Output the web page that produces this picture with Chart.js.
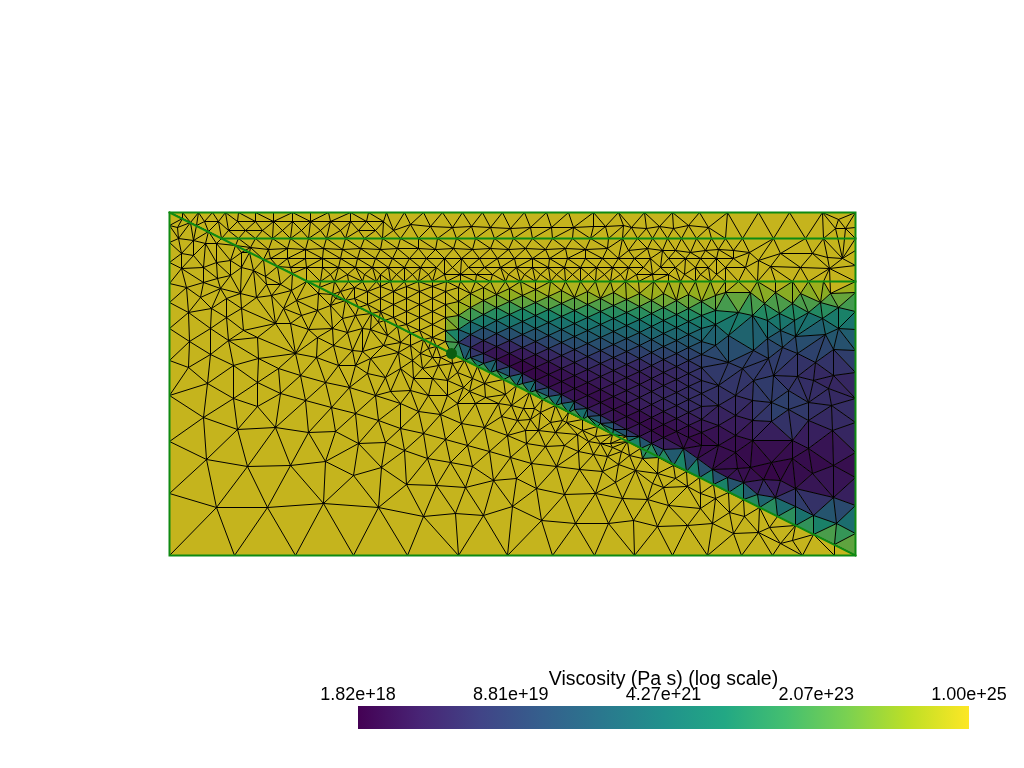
<!DOCTYPE html>
<html><head><meta charset="utf-8">
<style>html,body{margin:0;padding:0;background:#fff;overflow:hidden}
canvas{position:absolute;display:block}</style>
<script src="https://cdn.jsdelivr.net/npm/chart.js@4"></script></head>
<body>
<canvas id="mesh" width="1024" height="768" style="left:0;top:0;width:1024px;height:768px"></canvas>
<canvas id="bar" width="720" height="90" style="left:300px;top:654px;width:720px;height:90px"></canvas>
<script>
// ---------- colour bar ----------
const colorbarTitle = "Viscosity (Pa s) (log scale)";
const colorbarMin = 1.82e18, colorbarMax = 1.00e25;
const colorbarTickValues = [1.82e18, 8.81e19, 4.27e21, 2.07e23, 1.00e25];
const colorbarTickLabels = ["1.82e+18", "8.81e+19", "4.27e+21", "2.07e+23", "1.00e+25"];
const viridis = ["#440154","#482475","#414487","#355f8d","#2a788e","#21918c","#22a884","#44bf70","#7ad151","#bddf26","#fde725"];

// ---------- mesh frame (axis units) ----------
const frameX = [169, 855, 855, 169, 169];
const frameY = [212, 212, 555, 555, 212];
const slabTop = [[169,212],[855,555]];
const slabLevel1 = [[221,238],[855,238]];
const slabLevel2 = [[306,281],[855,281]];
const wedgeTip = [[451,353]];

// ---------- mesh nodes: rows [y, x...] ----------
const rowTop = [212,169,182,198,212,225,238,255,273,292,310,328,350,368,386,404,423,442,462,482,502,524,546,568,593,618,644,672,699,727,758,789,822,855];
const row238 = [238,221,238,255,272,290,308,326,345,364,382,400,418,437,456,475,494,513,532,552,572,590,608,622,637,652,667,681,696,711,725,742,773,805,823,855];
const row281 = [281,306,320,334,348,362,376,390,404,418,432,446,460,475,490,505,520,535,550,565,580,595,610,625,638,653,668,680,695,710,725,738,757,775,792,808,823,855];
const row258 = [258,270,287,305,322,340,357,375,392,409,426,444,461,479,497,514,532,549,567,585,602,618,634,650,668,685,700,716,733];
const row267 = [267,290,306,322,338,355,372,388,404,420,436,452,468,484,500,516,532,548,564,580,596,612,628,643,660,675,695,708,725];
const row274 = [274,330,347,364,380,396,412,428,444,460,476,492,508,524,540,556,572,588,604,620,636,652,668,684,700,716];
const row221 = [221,204,218,237,255,273,292,310,330,350,366,383];
const row230 = [230,228,245,262,282,301,320,340,358,375,393];
const bottomEdge = [555,169,234,295,353,407,458,507,552,594,634,672,707,741,772,802,834];
const leftEdge = [225,242,262,283,302,328,360,395,441,493];

// columns above the slab, left of the tip: [x, y, y, ...]
const forearcColumns = [[340,291],[354,287,298],[367,291,304],[380,286,298,311],[393,291,304,317],[406,286,298,311,324],[419,291,304,317,330],[432,286,298,311,324,337],[445,291,304,317,330,341]];

// mesh nodes: free pairs [x,y]
const row226Nodes = [[177,227],[190,222],[410,224],[430,226],[452,227],[471,226],[490,227],[510,228],[530,227],[551,227],[573,227],[593,226],[605,226],[623,225],[631,227],[646,228],[659,226],[673,228],[688,225],[708,227],[835,228],[845,228],[838,219],[855,227]];
const row248Nodes = [[178,238],[193,240],[205,243],[216,243],[233,248],[250,247],[268,249],[287,248],[305,249],[323,248],[342,249],[360,248],[380,249],[397,248],[418,248],[435,249],[453,248],[472,249],[490,248],[508,249],[525,248],[545,249],[565,248],[585,249],[607,248],[628,250],[647,248],[662,250],[675,250],[690,252],[705,250],[718,249],[733,250],[749,252],[780,253],[812,253],[827,257],[842,258],[855,250],[745,267],[770,266],[800,267],[829,268],[758,260],[855,265]];
const slabNodes = [[182,218],[196,225],[208,231],[235,245],[249,252],[263,259],[277,266],[292,273],[319,287],[332,294],[345,300],[358,307],[371,313],[384,320],[397,326],[410,333],[423,339],[436,346],[451,353]];
const slabWedgeNodes = [[464,360],[477,366],[490,372],[503,379],[516,385],[529,392],[542,399],[555,405],[568,412],[582,419],[597,426],[612,434],[627,441],[640,448],[658,457],[673,465],[686,471],[699,477],[713,484],[728,492],[743,499],[759,507],[777,516],[795,525],[813,534],[834,544],[855,555]];
const slabWedgeViscosity = 0.85;

// wedge columns: [x, y, v, y, v, ...]; v is the position along the colour bar
const wedgeColumns = [
 [458,287,1,301,.97,315,.88,329,.62,342,.2],
 [470,293,.97,307,.88,321,.6,334,.32,347,.1,357,.45],
 [483,287,.98,300,.9,314,.66,327,.42,340,.2,353,.05,363,.4],
 [496,294,.92,307,.76,320,.52,333,.32,346,.14,359,.03,370,.5],
 [509,288,.96,301,.82,314,.62,327,.43,340,.22,353,.06,366,.02,376,.55],
 [522,295,.9,308,.7,321,.5,334,.34,347,.16,360,.04,373,.02,383,.55],
 [535,289,.95,302,.8,315,.6,328,.42,341,.26,354,.11,367,.03,380,.04,390,.5],
 [548,296,.88,309,.68,322,.5,335,.36,348,.2,361,.08,374,.03,387,.06,396,.55],
 [561,290,.94,303,.78,316,.58,329,.44,342,.3,355,.16,368,.08,381,.03,394,.08,403,.55],
 [574,297,.88,310,.68,323,.5,336,.38,349,.24,362,.14,375,.08,388,.03,401,.1,409,.5],
 [587,291,.94,304,.78,317,.58,330,.44,343,.32,356,.2,369,.12,382,.07,395,.03,408,.12,416,.5],
 [600,298,.86,311,.66,324,.5,337,.38,350,.26,363,.16,376,.1,389,.07,402,.03,415,.12,423,.5],
 [613,292,.92,305,.74,318,.56,331,.42,344,.3,357,.2,370,.12,383,.1,396,.07,409,.03,422,.1,429,.5],
 [626,299,.84,312,.64,325,.5,338,.36,351,.26,364,.16,377,.1,390,.1,403,.08,416,.04,429,.1,436,.45],
 [639,293,.92,306,.74,319,.56,332,.42,345,.3,358,.18,371,.1,384,.1,397,.12,410,.07,423,.02,436,.12],
 [651,300,.84,313,.66,326,.5,339,.38,352,.27,365,.17,378,.1,391,.12,404,.12,417,.07,430,.02,443,.12],
 [663,293,.92,307,.74,320,.56,333,.44,346,.31,359,.2,372,.12,385,.13,398,.15,411,.08,424,.05,437,.02,449,.2],
 [676,300,.84,314,.64,327,.5,340,.38,353,.27,366,.17,379,.14,392,.14,405,.17,418,.1,431,.03],
 [688,294,.9,308,.72,321,.55,334,.42,347,.32,360,.2,373,.16,386,.16,399,.16,412,.13,425,.08,437,.03],
 [701,301,.8,315,.62,328,.48,341,.37,354,.27,367,.2,380,.18,393,.18,406,.16,419,.1,432,.05,445,.02],
 [715,295,.88,310,.68,324,.52]
];
// right part of the wedge: [x, y, v]
const rightWedgeNodes = [[725,292,.9],[750,292,.88],[775,292,.88],[800,293,.88],[830,293,.88],[764,303,.76],[792,303,.76],[820,302,.76],[838,307,.68],[738,312,.64],[752,315,.6],[767,320,.54],[779,313,.62],[794,320,.52],[808,312,.62],[822,318,.52],[838,328,.44],[825,334,.38],[795,336,.34],[780,330,.42],[767,338,.35],[728,335,.42],[715,345,.34],[782,347,.27],[797,353,.22],[815,362,.17],[833,349,.27],[768,358,.23],[753,350,.27],[728,362,.25],[742,368,.22],[753,380,.2],[773,375,.2],[797,376,.17],[813,380,.15],[833,375,.13],[718,385,.2],[735,395,.18],[752,400,.17],[771,402,.28],[788,390,.2],[808,402,.2],[788,409,.28],[771,421,.2],[808,420,.18],[828,388,.15],[831,405,.15],[832,430,.12],[718,405,.16],[735,415,.12],[752,420,.12],[718,425,.1],[735,435,.07],[752,440,.06],[718,445,.04],[735,452,.03],[792,440,.08],[792,458,.05],[808,448,.05],[771,462,.02],[812,473,.03],[795,488,.05],[780,480,.02],[763,479,.03],[750,467,.03],[737,468,.03],[833,497,.15],[833,465,.04],[836,523,.55],[813,515,.35],[795,506,.3],[775,497,.25],[757,494,.22],[743,482,.1],[727,477,.08],[712,469,.08],[697,458,.06],[683,448,.1],
 [855,292,.88],[855,311,.64],[855,329,.45],[855,350,.3],[855,372,.15],[855,398,.15],[855,422,.2],[855,452,.1],[855,477,.02],[855,505,.18],[855,533,.7]];

const upperLeftNodes = [[181,253],[193,255],[181,268],[203,267],[216,262],[230,260],[241,252],[186,287],[203,282],[217,278],[230,275],[241,267],[253,270],[265,276],[240,293],[220,288],[211,308],[188,312],[200,297],[226,298],[241,308],[256,297],[271,295],[266,284],[280,284],[291,290],[296,300],[283,308],[301,315],[275,323],[226,317],[210,328],[243,330],[189,341],[228,340],[210,354],[257,337],[258,358],[233,365],[188,367],[207,383],[257,382],[278,368],[295,353],[290,323],[308,329],[317,310],[330,305],[318,293],[335,298],[317,337],[332,328],[342,318],[355,315],[347,332],[362,328],[370,329],[378,322],[333,345],[352,350],[362,351],[370,358],[316,357],[338,365],[355,365],[383,345],[387,335],[400,342],[410,345],[398,352],[412,360],[432,357],[440,357],[420,353],[428,348],[438,365],[452,363],[457,372],[422,368],[400,368],[385,377],[413,378],[432,378],[447,380],[367,373],[349,387],[325,382],[300,375],[375,395],[390,391],[410,390],[428,395],[447,395],[463,387],[305,400],[400,403],[472,378],[484,383]];
const lowerLeftNodes = [[233,398],[257,406],[280,393],[203,417],[237,429],[275,427],[308,432],[335,431],[331,407],[355,413],[378,420],[206,459],[247,466],[290,465],[325,461],[358,443],[385,442],[353,475],[381,467],[400,428],[216,507],[267,507],[323,503],[378,507]];
const lowerMiddleNodes = [[418,411],[440,414],[457,403],[469,391],[485,397],[475,403],[498,403],[511,405],[505,394],[402,427],[423,433],[445,439],[461,423],[484,427],[501,416],[517,420],[530,419],[523,408],[534,408],[525,430],[538,430],[550,422],[562,420],[555,432],[507,435],[526,443],[545,446],[564,445],[577,434],[588,441],[578,451],[593,454],[600,443],[610,443],[621,451],[607,456],[618,464],[602,471],[579,469],[556,466],[531,463],[510,457],[489,451],[467,445],[450,462],[427,458],[404,450],[472,466],[516,478],[493,480],[465,487],[436,485],[406,484],[536,488],[564,494],[595,493],[615,482],[622,498],[512,506],[423,516],[455,513],[483,515],[541,520],[575,523],[608,523],[540,412],[566,422],[582,430],[595,436],[612,447]];
const lowerRightNodes = [[633,520],[657,526],[687,525],[712,523],[733,533],[758,532],[780,543],[792,540],[668,505],[647,499],[700,508],[729,512],[744,516],[769,527],[663,487],[687,486],[675,478],[652,483],[635,470],[642,458],[657,473],[629,455],[700,493],[715,498]];

// ---------- build node list ----------
const nodes = [];
function addNode(x, y, v){
  for (const n of nodes) if (Math.hypot(n.x-x, n.y-y) < 4) return;
  nodes.push({x, y, v});
}
function addRow(r){ for (let i=1;i<r.length;i++) addNode(r[i], r[0], 1); }
[rowTop,bottomEdge].forEach(addRow);
leftEdge.forEach(y=>addNode(169,y,1));
addNode(169,555,1); addNode(855,555,slabWedgeViscosity);
slabWedgeNodes.forEach(p=>addNode(p[0],p[1],slabWedgeViscosity));
slabNodes.forEach(p=>addNode(p[0],p[1],1));
[row238,row281,row258,row267,row274,row221,row230].forEach(addRow);
forearcColumns.forEach(c=>{ for(let i=1;i<c.length;i++) addNode(c[0],c[i],1); });
row226Nodes.forEach(p=>addNode(p[0],p[1],1));
row248Nodes.forEach(p=>addNode(p[0],p[1],1));
wedgeColumns.forEach(c=>{ for(let i=1;i<c.length;i+=2) addNode(c[0],c[i],c[i+1]); });
rightWedgeNodes.forEach(p=>addNode(p[0],p[1],p[2]));
[upperLeftNodes,lowerLeftNodes,lowerMiddleNodes,lowerRightNodes].forEach(a=>a.forEach(p=>addNode(p[0],p[1],1)));

// ---------- connect the nodes into triangles ----------
function triangulate(pts){
  const n = pts.length;
  const P = pts.map((p,i)=>[p.x+1e-3*((i*7)%11-5)/5, p.y+1e-3*((i*13)%11-5)/5]);
  P.push([-1e6,-1e6],[3e6,-1e6],[500,3e6]);
  const circ = (a,b,c)=>{
    const A=P[a],B=P[b],C=P[c];
    const d=2*(A[0]*(B[1]-C[1])+B[0]*(C[1]-A[1])+C[0]*(A[1]-B[1]));
    const a2=A[0]*A[0]+A[1]*A[1],b2=B[0]*B[0]+B[1]*B[1],c2=C[0]*C[0]+C[1]*C[1];
    const x=(a2*(B[1]-C[1])+b2*(C[1]-A[1])+c2*(A[1]-B[1]))/d;
    const y=(a2*(C[0]-B[0])+b2*(A[0]-C[0])+c2*(B[0]-A[0]))/d;
    return {a,b,c,x,y,r:(A[0]-x)**2+(A[1]-y)**2};
  };
  let tris=[circ(n,n+1,n+2)];
  for(let i=0;i<n;i++){
    const edges=new Map(), keep=[];
    for(const t of tris){
      if((P[i][0]-t.x)**2+(P[i][1]-t.y)**2 < t.r){
        for(const [u,v] of [[t.a,t.b],[t.b,t.c],[t.c,t.a]]){
          const k=u<v?u+"_"+v:v+"_"+u;
          edges.set(k,edges.has(k)?null:[u,v]);
        }
      } else keep.push(t);
    }
    for(const e of edges.values()) if(e) keep.push(circ(e[0],e[1],i));
    tris=keep;
  }
  return tris.filter(t=>t.a<n&&t.b<n&&t.c<n);
}
const triangles = triangulate(nodes);

// ---------- colours ----------
const lighting = 0.78;
function hexRGB(h){return [1,3,5].map(i=>parseInt(h.substr(i,2),16));}
function cellColor(v){
  const f=Math.max(0,Math.min(1,v))*(viridis.length-1), i=Math.min(viridis.length-2,Math.floor(f)), t=f-i;
  const a=hexRGB(viridis[i]), b=hexRGB(viridis[i+1]);
  return "rgb("+a.map((c,k)=>Math.round((c+(b[k]-c)*t)*lighting)).join(",")+")";
}
const slabAt = x => slabTop[0][1]+(x-slabTop[0][0])*(slabTop[1][1]-slabTop[0][1])/(slabTop[1][0]-slabTop[0][0]);

// ---------- datasets ----------
const datasets = [];
datasets.push({label:"domain",data:frameX.map((x,i)=>({x,y:frameY[i]})),fill:"shape",backgroundColor:cellColor(1),borderWidth:0,pointRadius:0,order:5});
for(const t of triangles){
  const a=nodes[t.a],b=nodes[t.b],c=nodes[t.c];
  const cx=(a.x+b.x+c.x)/3, cy=(a.y+b.y+c.y)/3, v=(a.v+b.v+c.v)/3;
  if(cy<slabLevel2[0][1]||cy>slabAt(cx)||v>0.99) continue;
  datasets.push({label:"cell",data:[a,b,c,a].map(n=>({x:n.x,y:n.y})),fill:"shape",backgroundColor:cellColor(v),borderWidth:0,pointRadius:0,order:4});
}
const edgeSeen=new Set(), edgeData=[];
for(const t of triangles){
  for(const [u,v] of [[t.a,t.b],[t.b,t.c],[t.c,t.a]]){
    const k=u<v?u+"_"+v:v+"_"+u;
    if(edgeSeen.has(k)) continue; edgeSeen.add(k);
    edgeData.push({x:nodes[u].x,y:nodes[u].y},{x:nodes[v].x,y:nodes[v].y},{x:nodes[v].x,y:null});
  }
}
datasets.push({label:"mesh",data:edgeData,borderColor:"#000",borderWidth:1,pointRadius:0,spanGaps:false,fill:false,order:3});
const green="#0f8a12";
const polyline=(pts,w,o)=>({label:"line",data:pts.map(p=>({x:p[0],y:p[1]})),borderColor:green,borderWidth:w,pointRadius:0,fill:false,order:o});
datasets.push(polyline(slabTop,2,2),polyline(slabLevel1,2,2),polyline(slabLevel2,2,2));
datasets.push(polyline(frameX.map((x,i)=>[x,frameY[i]]),2,2));
datasets.push({label:"tip",data:wedgeTip.map(p=>({x:p[0],y:p[1]})),showLine:false,pointRadius:5.5,pointBackgroundColor:"#0a5c10",pointBorderWidth:0,order:1});

Chart.defaults.animation=false;
new Chart(document.getElementById("mesh"),{
  type:"line",
  data:{datasets},
  options:{responsive:false,animation:false,events:[],devicePixelRatio:1,
    layout:{padding:0,autoPadding:false},
    plugins:{legend:{display:false},tooltip:{enabled:false},title:{display:false}},
    elements:{line:{tension:0,borderCapStyle:"square"}},
    scales:{
      x:{type:"linear",min:-0.5,max:1023.5,display:false},
      y:{type:"linear",min:-0.5,max:767.5,reverse:true,display:false}
    }}
});

// ---------- colour bar chart ----------
new Chart(document.getElementById("bar"),{
  type:"line",
  data:{datasets:[{
    data:[{x:colorbarMin,y:0},{x:colorbarMax,y:0},{x:colorbarMax,y:1},{x:colorbarMin,y:1},{x:colorbarMin,y:0}],
    fill:"shape",borderWidth:0,pointRadius:0,
    backgroundColor(ctx){
      const ca=ctx.chart.chartArea; if(!ca) return viridis[0];
      const g=ctx.chart.ctx.createLinearGradient(ca.left,0,ca.right,0);
      viridis.forEach((c,i)=>g.addColorStop(i/(viridis.length-1),c));
      return g;
    }
  }]},
  options:{responsive:false,animation:false,events:[],devicePixelRatio:1,
    layout:{padding:{left:58,right:51,top:14,bottom:15},autoPadding:false},
    plugins:{legend:{display:false},tooltip:{enabled:false}},
    scales:{
      x:{type:"logarithmic",position:"top",min:colorbarMin,max:colorbarMax,
        border:{display:false},grid:{display:false,drawTicks:false},
        afterBuildTicks(s){s.ticks=colorbarTickValues.map(v=>({value:v}));},
        afterFit(s){s.height=38;},
        title:{display:true,text:colorbarTitle,color:"#000",font:{family:"Liberation Sans",size:19.5},padding:{top:0,bottom:0}},
        ticks:{color:"#000",font:{family:"Liberation Sans",size:18},autoSkip:false,maxRotation:0,minRotation:0,padding:0,
          callback(v,i){return colorbarTickLabels[i];}}
      },
      y:{type:"linear",min:0,max:1,display:false}
    }}
});
</script></body></html>
